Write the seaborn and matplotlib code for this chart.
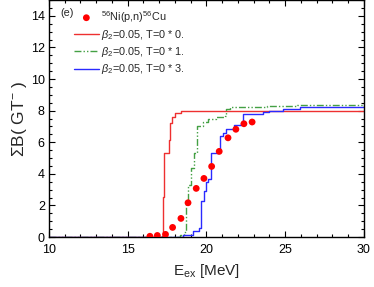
import seaborn as sns
import pandas as pd
import numpy as np
import matplotlib
matplotlib.use("Agg")
import matplotlib.pyplot as plt
from matplotlib.ticker import MultipleLocator

# experimental points 56Ni(p,n)56Cu
exp_x = [16.41, 16.88, 17.40, 17.85, 18.38, 18.83, 19.35, 19.84, 20.33, 20.81, 21.37, 21.87, 22.38, 22.90]
exp_y = [0.05, 0.10, 0.17, 0.61, 1.18, 2.17, 3.08, 3.71, 4.47, 5.42, 6.28, 6.82, 7.17, 7.28]

# running sums, T=0 * 0.
red_x = [10, 17.18, 17.26, 17.32, 17.60, 17.68, 17.82, 18.02, 18.40, 30]
red_y = [0, 0.06, 2.55, 5.29, 6.14, 7.19, 7.61, 7.83, 7.97, 7.97]

# T=0 * 1.
green_x = [10, 17.5, 18.3, 18.6, 18.7, 18.85, 19.0, 19.2, 19.42, 19.75, 20.08, 20.6, 21.15, 21.26, 21.47, 22.76, 23.82, 25.73, 30]
green_y = [0, 0.02, 0.15, 0.35, 2.1, 3.3, 4.4, 5.3, 7.0, 7.3, 7.5, 7.6, 7.65, 8.1, 8.2, 8.22, 8.3, 8.35, 8.4]

# T=0 * 3.
blue_x = [10, 17.0, 17.68, 18.53, 19.16, 19.55, 19.65, 19.87, 19.98, 20.08, 20.3, 20.62, 20.72, 20.87, 21.04, 21.25, 21.78, 22.2, 22.32, 23.6, 24.0, 24.88, 25.94, 30]
blue_y = [0, 0.0, 0.03, 0.13, 0.38, 0.59, 2.28, 2.9, 3.5, 3.7, 5.3, 5.35, 5.6, 6.4, 6.6, 6.85, 7.1, 7.2, 7.8, 7.9, 8.0, 8.1, 8.2, 8.3]

labels = [r'$^{56}$Ni(p,n)$^{56}$Cu',
          r'$\beta_2$=0.05, T=0 * 0.',
          r'$\beta_2$=0.05, T=0 * 1.',
          r'$\beta_2$=0.05, T=0 * 3.']

sns.set_style("ticks")
plt.rcParams['font.family'] = ['Liberation Sans', 'DejaVu Sans']
plt.rcParams['mathtext.fontset'] = 'custom'
plt.rcParams['mathtext.rm'] = 'Liberation Sans'
plt.rcParams['mathtext.it'] = 'Liberation Sans:italic'

fig = plt.figure(figsize=(3.74, 2.87), dpi=100)
ax = fig.add_axes([0.131, 0.174, 0.842, 0.826])

sns.lineplot(x=red_x, y=red_y, ax=ax, color='#ee3030', lw=1.0, drawstyle='steps-post',
             estimator=None, sort=False, label=labels[1])
sns.lineplot(x=green_x, y=green_y, ax=ax, color='#44a044', lw=1.0, drawstyle='steps-post',
             estimator=None, sort=False, label=labels[2], dashes=False)
ax.lines[-1].set_linestyle((0, (5, 1.5, 1, 1.5, 1, 1.5)))
sns.lineplot(x=blue_x, y=blue_y, ax=ax, color='#2a2aff', lw=1.0, drawstyle='steps-post',
             estimator=None, sort=False, label=labels[3])
sns.scatterplot(x=exp_x, y=exp_y, ax=ax, color='red', s=24, edgecolor='none',
                label=labels[0], zorder=5)

ax.set_xlim(10, 30)
ax.set_ylim(0, 15)
ax.xaxis.set_major_locator(MultipleLocator(5))
ax.xaxis.set_minor_locator(MultipleLocator(1))
ax.yaxis.set_major_locator(MultipleLocator(2))
ax.yaxis.set_minor_locator(MultipleLocator(0.5))
ax.tick_params(which='both', direction='in', top=True, right=True, labelsize=9,
               labelcolor='black', color='black')
ax.tick_params(axis='x', pad=5)
ax.tick_params(axis='y', pad=3)
ax.tick_params(which='major', length=4, width=0.8)
ax.tick_params(which='minor', length=2, width=0.8)
for s in ax.spines.values():
    s.set_linewidth(1.0)
    s.set_color('black')

ax.set_xlabel(r'E$_{\rm ex}$ [MeV]', fontsize=11, labelpad=4)
ax.set_ylabel(r'ΣB( GT$^{-}$ )', fontsize=12.5, labelpad=1)

h, l = ax.get_legend_handles_labels()
order = [3, 0, 1, 2]
ax.legend([h[i] for i in order], [l[i] for i in order], loc='upper left',
          bbox_to_anchor=(0.055, 0.995), frameon=False, fontsize=7.8,
          handlelength=2.3, handletextpad=0.2, labelspacing=0.3, borderpad=0.2)
ax.text(0.035, 0.945, '(e)', transform=ax.transAxes, fontsize=7.8, va='center')

fig.savefig('out.png', dpi=100)
